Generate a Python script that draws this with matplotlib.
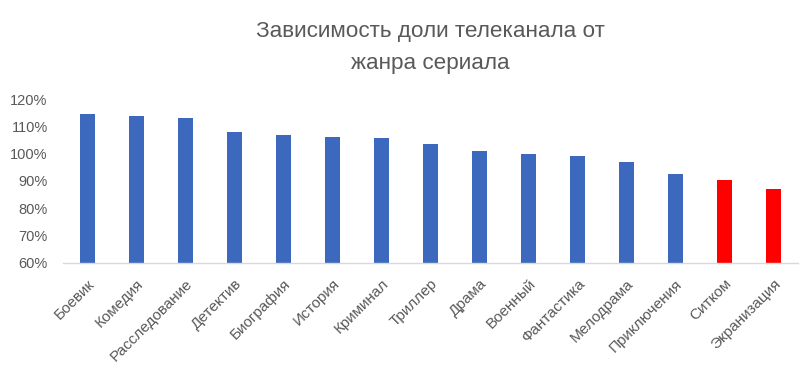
import matplotlib.pyplot as plt
from matplotlib.ticker import PercentFormatter

genres = ['Боевик', 'Комедия', 'Расследование', 'Детектив', 'Биография', 'История',
          'Криминал', 'Триллер', 'Драма', 'Военный', 'Фантастика', 'Мелодрама',
          'Приключения', 'Ситком', 'Экранизация']
share = [114.5, 113.8, 113.1, 108.0, 107.0, 106.2, 105.8, 103.6, 101.1, 100.0,
         99.2, 97.0, 92.6, 90.4, 87.1]
highlight = ['Ситком', 'Экранизация']

plt.rcParams['font.family'] = ['Liberation Sans', 'DejaVu Sans']
text_color = '#595959'

fig = plt.figure(figsize=(8.08, 3.71), dpi=100)
ax = fig.add_axes([0.078, 0.292, 0.9095, 0.441])

colors = ['#ff0000' if g in highlight else '#3c69be' for g in genres]
ax.bar(range(len(genres)), share, width=0.31, color=colors, bottom=0)

ax.set_xlim(-0.5, len(genres) - 0.5)
ax.set_ylim(60, 120)
ax.set_yticks(range(60, 121, 10))
ax.yaxis.set_major_formatter(PercentFormatter(decimals=0))
ax.set_xticks(range(len(genres)))
ax.set_xticklabels(genres, rotation=45, ha='right', rotation_mode='anchor')

ax.tick_params(axis='both', length=0, colors=text_color)
ax.tick_params(axis='x', pad=10, labelsize=11)
ax.tick_params(axis='y', pad=11, labelsize=10.5)
for side in ['left', 'right', 'top']:
    ax.spines[side].set_visible(False)
ax.spines['bottom'].set_color('#d9d9d9')
ax.spines['bottom'].set_linewidth(1)

fig.text(0.533, 0.914, 'Зависимость доли телеканала от', ha='center', va='center',
         fontsize=16.2, color=text_color)
fig.text(0.533, 0.830, 'жанра сериала', ha='center', va='center',
         fontsize=16.2, color=text_color)

fig.savefig('out.png', dpi=100)
